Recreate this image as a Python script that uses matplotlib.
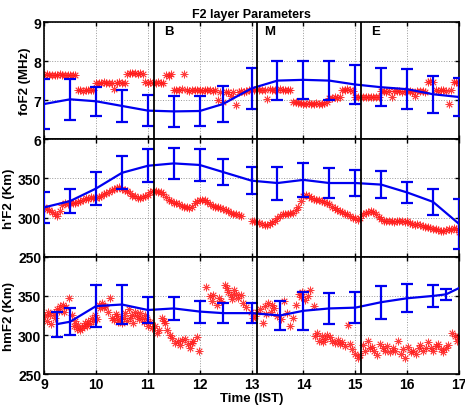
"""
F2 layer parameters: foF2, h'F2, hmF2 vs time (IST).
"""

import numpy as np
import matplotlib.pyplot as plt

plt.rcParams['font.family'] = ['Liberation Sans', 'DejaVu Sans']
plt.rcParams['font.weight'] = 'bold'

# sampling of the red (observed) series: every 3 min from 09:00 to 17:00
obs_time = 9 + 0.05 * np.arange(161)

fof2_obs = [
    7.65, 7.66, 7.65, 7.64, 7.65, 7.65, 7.66, 7.65, 7.64, 7.65, 7.65, 7.64, 7.65, 7.25, 7.26, 7.24, 7.25, 7.25, 7.26, 7.25,
    7.45, 7.44, 7.45, 7.46, 7.45, 7.44, 7.45, 7.28, 7.45, 7.46, 7.45, 7.45, 7.68, 7.69, 7.70, 7.69, 7.68, 7.70, 7.68, 7.46,
    7.45, 7.46, 7.45, 7.44, 7.46, 7.45, 7.45, 7.65, 7.63, 7.66, 7.27, 7.26, 7.25, 7.28, 7.68, 7.25, 7.24, 7.25, 7.26, 7.25,
    7.25, 7.24, 7.25, 7.26, 7.25, 7.24, 7.25, 7.00, 7.22, 6.95, 7.20, 7.22, 7.10, 7.22, 6.88, 7.22, 7.23, 7.22, 7.24, 7.25,
    7.27, 7.26, 7.28, 7.27, 7.26, 7.27, 7.02, 7.28, 7.27, 7.26, 7.27, 7.28, 7.26, 7.27, 7.25, 7.26, 6.96, 6.95, 6.93, 6.92,
    6.91, 6.90, 6.92, 6.91, 6.90, 6.92, 6.91, 6.90, 6.93, 6.95, 7.05, 7.06, 7.07, 7.05, 7.08, 7.25, 7.26, 7.28, 7.25, 7.24,
    7.08, 7.09, 7.08, 7.07, 7.08, 7.09, 7.08, 7.08, 7.07, 7.09, 7.23, 7.24, 7.22, 7.23, 7.08, 7.23, 7.24, 7.23, 7.22, 7.24,
    7.23, 7.24, 7.22, 7.10, 7.23, 7.24, 7.23, 7.22, 7.46, 7.48, 7.47, 7.25, 7.24, 7.26, 7.25, 7.24, 6.90, 7.25, 7.47, 7.46,
    7.45,
]

nan = np.nan
hf2_obs = [
    313, 311, 310, 307, 304, 302, 308, 316, 318, 317, 318, 319, 318, 320, 321, 323, 325, 324, 326, 325,
    325, 326, 328, 330, 331, 333, 335, 337, 338, 339, 337, 335, 334, 331, 328, 327, 325, 325, 326, 328,
    329, 332, 334, 334, 333, 333, 330, 326, 323, 321, 319, 318, 317, 315, 314, 313, 312, 314, 318, 321,
    322, 323, 322, 320, 317, 315, 314, 313, 312, 311, 309, 308, 306, 305, 304, 303, 302, nan, nan, nan,
    296, 295, 294, 293, 292, 291, 291, 292, 294, 296, 299, 302, 304, 305, 305, 306, 306, 309, 314, 321,
    328, 329, 327, 325, 324, 323, 322, 321, 320, 319, 317, 314, 312, 310, 308, 307, 305, 304, 302, 300,
    299, 297, 300, 304, 306, 307, 308, 307, 304, 301, 298, 296, 295, 295, 295, 294, 295, 296, 295, 294,
    295, 293, 292, 291, 292, 291, 289, 288, 288, 287, 286, 285, 284, 283, 283, 284, 285, 284, 287, 286,
    281,
]

# hmF2 observations are scattered, so they carry their own times
hmf2_time = [
    9.02, 9.05, 9.08, 9.11, 9.14, 9.18, 9.21, 9.24, 9.28, 9.31,
    9.36, 9.39, 9.43, 9.47, 9.53, 9.57, 9.60, 9.63, 9.66, 9.69,
    9.72, 9.76, 9.79, 9.82, 9.85, 9.88, 9.92, 9.95, 9.98, 10.02,
    10.05, 10.08, 10.11, 10.15, 10.18, 10.24, 10.27, 10.31, 10.34, 10.38,
    10.41, 10.43, 10.47, 10.50, 10.53, 10.56, 10.60, 10.63, 10.66, 10.69,
    10.72, 10.76, 10.79, 10.82, 10.85, 10.89, 10.92, 10.95, 10.98, 11.01,
    11.04, 11.08, 11.14, 11.18, 11.21, 11.27, 11.31, 11.34, 11.37, 11.42,
    11.46, 11.53, 11.59, 11.62, 11.66, 11.72, 11.77, 11.81, 11.85, 11.88,
    11.94, 11.98, 12.13, 12.20, 12.23, 12.26, 12.33, 12.37, 12.42, 12.49,
    12.52, 12.55, 12.60, 12.63, 12.66, 12.70, 12.73, 12.80, 12.83, 12.89,
    12.98, 13.02, 13.06, 13.10, 13.16, 13.22, 13.25, 13.28, 13.31, 13.37,
    13.40, 13.44, 13.50, 13.56, 13.63, 13.69, 13.75, 13.80, 13.85, 13.91,
    13.95, 13.98, 14.04, 14.08, 14.13, 14.20, 14.23, 14.27, 14.30, 14.35,
    14.38, 14.41, 14.46, 14.51, 14.56, 14.61, 14.66, 14.71, 14.75, 14.80,
    14.86, 14.90, 14.93, 14.99, 15.06, 15.10, 15.15, 15.19, 15.25, 15.29,
    15.32, 15.37, 15.41, 15.48, 15.53, 15.57, 15.62, 15.67, 15.72, 15.77,
    15.83, 15.89, 15.93, 15.96, 16.02, 16.07, 16.12, 16.18, 16.22, 16.25,
    16.31, 16.36, 16.41, 16.46, 16.50, 16.55, 16.60, 16.65, 16.70, 16.75,
    16.79, 16.86, 16.92, 16.96, 16.99,
]
hmf2_obs = [
    324, 318, 330, 326, 314, 328, 322, 333, 331, 337,
    339, 330, 336, 347, 326, 312, 318, 308, 313, 306,
    309, 312, 316, 311, 318, 314, 322, 318, 326, 320,
    339, 334, 341, 336, 337, 330, 347, 322, 319, 327,
    324, 317, 321, 315, 322, 328, 318, 333, 322, 326,
    316, 330, 324, 321, 328, 322, 317, 325, 320, 312,
    317, 309, 311, 303, 307, 322, 318, 315, 307, 300,
    296, 290, 292, 287, 294, 295, 289, 284, 290, 293,
    297, 280, 362, 350, 343, 351, 339, 347, 344, 364,
    360, 355, 351, 346, 358, 353, 347, 351, 341, 336,
    330, 322, 324, 329, 333, 316, 337, 327, 341, 330,
    338, 335, 324, 320, 344, 328, 311, 322, 339, 353,
    349, 355, 345, 350, 358, 337, 299, 303, 293, 299,
    291, 295, 300, 297, 292, 290, 294, 288, 291, 286,
    313, 289, 282, 276, 270, 274, 287, 280, 293, 283,
    285, 279, 274, 289, 284, 280, 286, 278, 283, 280,
    293, 276, 282, 270, 285, 278, 280, 276, 283, 287,
    280, 284, 291, 283, 280, 286, 289, 282, 278, 284,
    287, 303, 299, 292, 297,
]

# model (blue) values with error bars
fof2_mod_time = [9, 9.5, 10, 10.5, 11, 11.5, 12, 12.45, 13, 13.5, 14, 14.5, 15, 15.5, 16, 16.5, 17]
fof2_mod = [6.9, 7.02, 6.97, 6.85, 6.73, 6.71, 6.72, 6.9, 7.3, 7.5, 7.52, 7.5, 7.4, 7.33, 7.28, 7.15, 7.08]
fof2_err = [0.65, 0.52, 0.37, 0.4, 0.4, 0.39, 0.39, 0.46, 0.52, 0.51, 0.48, 0.51, 0.51, 0.49, 0.52, 0.48, 0.48]

hf2_mod_time = [9, 9.5, 10, 10.5, 11, 11.5, 12, 12.45, 13, 13.5, 14, 14.5, 15, 15.5, 16, 16.5, 17]
hf2_mod = [313, 321, 337, 357, 366, 369, 367, 358, 347, 344, 348, 344, 344, 342, 332, 320, 292]
hf2_err = [20, 15, 21, 21, 21, 20, 20, 17, 17, 21, 22, 19, 17, 17, 13, 17, 32]

hmf2_mod_time = [9.25, 9.5, 10, 10.5, 11, 11.5, 12, 12.45, 13, 13.55, 14, 14.5, 15, 15.5, 16, 16.5, 16.75, 17]
hmf2_mod = [314, 317, 337, 339, 332, 334, 330, 328, 328, 325, 331, 334, 335, 342, 347, 350, 352, 360]
hmf2_err = [16, 17, 27, 25, 16, 15, 14, 13, 13, 19, 24, 20, 20, 21, 18, 14, 7, 0]

# boundaries of the B / M / E periods
period_bounds = [11.12, 13.1, 15.12]
period_labels = ['B', 'M', 'E']
period_label_x = [11.4, 13.35, 15.4]

RED = '#ff1a1a'
BLUE = '#0000f0'


def draw_panel(ax, t_obs, obs, t_mod, mod, err, ylim, yticks, yticklabels, ylabel):
    # MATLAB-like asterisk: 8 thin spokes
    ax.plot(t_obs, obs, linestyle='none', marker=(8, 2, 0), markersize=5.5,
            color=RED, markeredgewidth=0.6, alpha=0.85, zorder=2)
    ax.plot(t_mod, mod, color=BLUE, linewidth=1.6, zorder=3)
    t_mod = np.asarray(t_mod)
    mod = np.asarray(mod)
    err = np.asarray(err)
    keep = err > 0
    ax.errorbar(t_mod[keep], mod[keep], yerr=err[keep], fmt='none', ecolor=BLUE,
                elinewidth=1.6, capsize=4, capthick=1.6, zorder=3)
    for xb in period_bounds:
        ax.axvline(xb, color='black', linewidth=1.3, zorder=4)
    ax.set_xlim(9, 17)
    ax.set_ylim(*ylim)
    ax.set_xticks(range(9, 18))
    ax.set_yticks(yticks)
    ax.set_yticklabels(yticklabels)
    ax.set_ylabel(ylabel, fontsize=9.5, fontweight='bold', labelpad=2)
    ax.grid(True, color='gray', linestyle=':', linewidth=0.7, alpha=0.8)
    ax.tick_params(direction='in', top=True, right=True, length=3,
                   labelsize=10, width=1, pad=2)
    for s in ax.spines.values():
        s.set_linewidth(1.2)


fig = plt.figure(figsize=(4.65, 4.06), dpi=100)
ax1 = fig.add_axes([0.095, 0.655, 0.892, 0.288])
ax2 = fig.add_axes([0.095, 0.365, 0.892, 0.290])
ax3 = fig.add_axes([0.095, 0.076, 0.892, 0.289])

draw_panel(ax1, obs_time, fof2_obs, fof2_mod_time, fof2_mod, fof2_err,
           (6, 9), [6, 7, 8, 9], ['', '7', '8', '9'], 'foF2 (MHz)')
draw_panel(ax2, obs_time, hf2_obs, hf2_mod_time, hf2_mod, hf2_err,
           (250, 400), [250, 300, 350, 400], ['250', '300', '350', '6'], "h'F2 (Km)")
draw_panel(ax3, hmf2_time, hmf2_obs, hmf2_mod_time, hmf2_mod, hmf2_err,
           (250, 400), [250, 300, 350, 400], ['250', '300', '350', ''], 'hmF2 (Km)')

ax1.set_xticklabels([])
ax2.set_xticklabels([])
ax3.set_xlabel('Time (IST)', fontsize=9.5, fontweight='bold', labelpad=1)

for lbl, xl in zip(period_labels, period_label_x):
    ax1.text(xl, 8.78, lbl, fontsize=9.5, fontweight='bold', ha='center', va='center')

ax1.set_title('F2 layer Parameters', fontsize=9, fontweight='bold', pad=4)

fig.savefig('out.png', dpi=100)
